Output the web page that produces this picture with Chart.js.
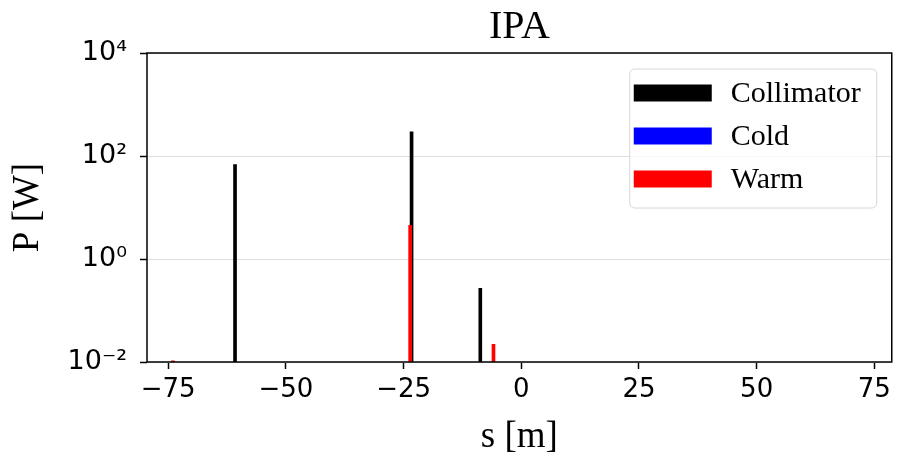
<!DOCTYPE html>
<html>
<head>
<meta charset="utf-8">
<script src="https://cdn.jsdelivr.net/npm/chart.js@4.4.1/dist/chart.umd.min.js"></script>
<style>
  html, body { margin: 0; padding: 0; background: #fff; }
  #wrap { width: 897px; height: 461px; }
</style>
</head>
<body>
<div id="wrap"><canvas id="ipa-graph" width="897" height="461"></canvas></div>
<script>
// --< Data >--
const collimatorS = [-60.8, -23.3, -8.7];
const collimatorP = [68, 295, 0.27];
const coldS = [];
const coldP = [];
const warmS = [-74, -23.6, -5.9];
const warmP = [0.0105, 4.5, 0.022];

const xTicks = [-75, -50, -25, 0, 25, 50, 75];
const yTicks = [1e-2, 1e0, 1e2, 1e4];
const xRange = [-79.5, 78.7];
const yRange = [1e-2, 1e4];
// --</ Data >--

const toPoints = (s, p) => s.map((v, i) => ({ x: v, y: p[i] }));
const sup = { "-": "\u207B", "0": "\u2070", "1": "\u00B9", "2": "\u00B2", "3": "\u00B3", "4": "\u2074" };
const fmtPow = v => "10" + String(Math.round(Math.log10(v))).split("").map(c => sup[c]).join("");

const tickFont = { family: "'DejaVu Sans'", size: 26 };
const serif = "'Liberation Serif', 'Times New Roman', serif";

// legend box + frame, drawn like matplotlib
const framePlugin = {
  id: "frame",
  afterDatasetsDraw(chart) {
    const { ctx, chartArea: a } = chart;
    ctx.save();
    ctx.strokeStyle = "#000";
    ctx.lineWidth = 1.5;
    ctx.strokeRect(a.left, a.top, a.right - a.left, a.bottom - a.top);
    ctx.restore();
  },
  afterDraw(chart) {
    const { ctx, chartArea: a } = chart;
    const right = a.right - 15, top = a.top + 16;
    const w = 247, h = 139, left = right - w;
    ctx.save();
    ctx.beginPath();
    ctx.roundRect(left, top, w, h, 5);
    ctx.fillStyle = "rgba(255,255,255,0.8)";
    ctx.fill();
    ctx.strokeStyle = "#d6d6d6";
    ctx.lineWidth = 1;
    ctx.stroke();
    ctx.font = `30px ${serif}`;
    ctx.textBaseline = "middle";
    ctx.textAlign = "left";
    ["Collimator", "Cold", "Warm"].forEach((name, i) => {
      const ds = chart.data.datasets.find(d => d.label === name);
      const cy = top + 24 + i * 43;
      ctx.fillStyle = ds.backgroundColor;
      ctx.fillRect(left + 4, cy - 8.5, 78, 17);
      ctx.fillStyle = "#000";
      ctx.fillText(name, left + 101, cy + 1);
    });
    ctx.restore();
  }
};

new Chart(document.getElementById("ipa-graph"), {
  type: "bar",
  data: {
    datasets: [
      { label: "Warm", data: toPoints(warmS, warmP), backgroundColor: "#ff0000", order: 0 },
      { label: "Cold", data: toPoints(coldS, coldP), backgroundColor: "#0000ff", order: 1 },
      { label: "Collimator", data: toPoints(collimatorS, collimatorP), backgroundColor: "#000000", order: 2 }
    ]
  },
  options: {
    responsive: false,
    animation: false,
    devicePixelRatio: 1,
    layout: { padding: { left: 0, right: 4, top: 0, bottom: 0 } },
    datasets: { bar: { barThickness: 3, grouped: false, borderWidth: 0 } },
    plugins: {
      legend: { display: false },
      tooltip: { enabled: false },
      title: {
        display: true,
        text: "IPA",
        fullSize: false,
        color: "#000",
        font: { family: serif, size: 40, weight: "normal" },
        padding: { top: 3, bottom: 2 }
      }
    },
    scales: {
      x: {
        type: "linear",
        min: xRange[0],
        max: xRange[1],
        offset: false,
        afterBuildTicks: s => { s.ticks = xTicks.map(v => ({ value: v })); },
        afterFit: s => { s.height = 99; },
        ticks: {
          color: "#000",
          font: tickFont,
          padding: 6,
          maxRotation: 0,
          callback: v => (v < 0 ? "\u2212" + Math.abs(v) : String(v))
        },
        grid: { offset: false, drawOnChartArea: false, tickLength: 7, tickColor: "#000", tickWidth: 1.5 },
        border: { display: false },
        title: {
          display: true,
          text: "s [m]",
          color: "#000",
          font: { family: serif, size: 37 },
          padding: { top: 0, bottom: 2 }
        }
      },
      y: {
        type: "logarithmic",
        min: yRange[0],
        max: yRange[1],
        afterBuildTicks: s => { s.ticks = yTicks.map(v => ({ value: v })); },
        afterFit: s => { s.width = 147; },
        ticks: { color: "#000", font: { family: "'DejaVu Sans'", size: 27 }, padding: 13, callback: v => fmtPow(v) },
        grid: { color: "#dddddd", lineWidth: 1, tickLength: 7, tickColor: "#000", tickWidth: 1.5 },
        border: { display: false },
        title: {
          display: true,
          text: "P [W]",
          color: "#000",
          font: { family: serif, size: 37 },
          padding: { top: 6, bottom: 0 }
        }
      }
    }
  },
  plugins: [framePlugin]
});
</script>
</body>
</html>
